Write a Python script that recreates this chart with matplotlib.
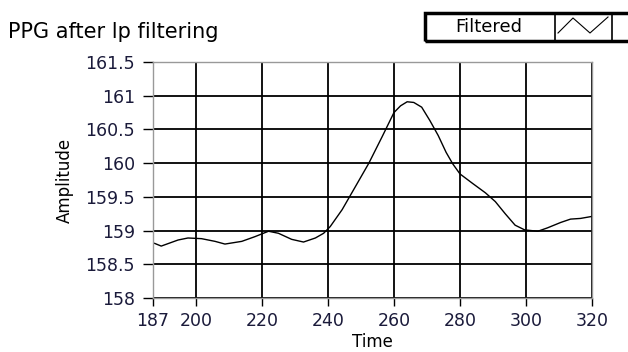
import matplotlib
matplotlib.use("Agg")
import matplotlib.pyplot as plt
from matplotlib.patches import Rectangle
from matplotlib.lines import Line2D

time = [187.5, 189.5, 194.6, 197.6, 201.7, 205.8, 208.8, 213.9, 217.9, 222.0,
        225.0, 229.0, 232.6, 236.2, 238.7, 240.7, 244.3, 248.3, 252.4, 256.4,
        260.0, 262.0, 264.0, 266.0, 268.4, 270.9, 273.4, 275.8, 277.8, 280.0,
        283.8, 287.7, 290.7, 293.7, 296.7, 299.6, 303.6, 306.5, 310.5, 313.5,
        316.5, 320.0]
amplitude = [158.81, 158.77, 158.86, 158.89, 158.88, 158.84, 158.80, 158.84, 158.91, 158.99,
             158.96, 158.87, 158.83, 158.89, 158.96, 159.06, 159.31, 159.65, 160.00, 160.39,
             160.75, 160.85, 160.91, 160.90, 160.83, 160.63, 160.41, 160.16, 159.99, 159.84,
             159.70, 159.56, 159.43, 159.25, 159.08, 159.01, 158.99, 159.04, 159.12, 159.17,
             159.18, 159.21]
xticks = [187, 200, 220, 240, 260, 280, 300, 320]
yticks = [158, 158.5, 159, 159.5, 160, 160.5, 161, 161.5]
ytick_labels = ["158", "158.5", "159", "159.5", "160", "160.5", "161", "161.5"]

plt.rcParams['font.family'] = ['DejaVu Sans']
fig = plt.figure(figsize=(6.28, 3.52), dpi=100)
ax = fig.add_axes([0.2436, 0.1534, 0.6991, 0.6705])
ax.plot(time, amplitude, color='black', lw=1.0)
ax.set_xlim(187, 320)
ax.set_ylim(158, 161.5)
ax.set_xticks(xticks)
ax.set_yticks(yticks)
ax.set_yticklabels(ytick_labels)
ax.grid(True, color='black', lw=1.3)
for s in ax.spines.values():
    s.set_color('#999999')
    s.set_linewidth(1.0)
ax.tick_params(axis='both', colors='black', labelsize=12.5, width=1,
               labelcolor='#1a1a3a')
ax.tick_params(axis='y', length=7, pad=6)
ax.tick_params(axis='x', length=5.5, pad=4.5)
ax.set_xlabel('Time', fontsize=12, labelpad=2.5)
ax.set_ylabel('Amplitude', fontsize=12, labelpad=8)

fig.text(8 / 628, 1 - 32 / 352, 'PPG after lp filtering', fontsize=15,
         va='center', ha='left', color='black')

# legend box (drawn in figure coordinates)
W, H = 628.0, 352.0
def fx(px): return px / W
def fy(py): return 1 - py / H
top, bot = 13, 41
fig.patches.append(Rectangle((fx(425), fy(bot)), fx(640) - fx(425), fy(top) - fy(bot),
                             transform=fig.transFigure, fill=False, ec='black', lw=2.5))
for xv in [555, 612]:
    fig.lines.append(Line2D([fx(xv), fx(xv)], [fy(top), fy(bot)], transform=fig.transFigure,
                            color='black', lw=1.2))
fig.text(fx(489), fy(27), 'Filtered', fontsize=13, ha='center', va='center', color='black')
fig.lines.append(Line2D([fx(558), fx(573), fx(590), fx(608)],
                        [fy(33), fy(18), fy(33), fy(17)],
                        transform=fig.transFigure, color='black', lw=0.8))

fig.savefig('out.png', dpi=100)
